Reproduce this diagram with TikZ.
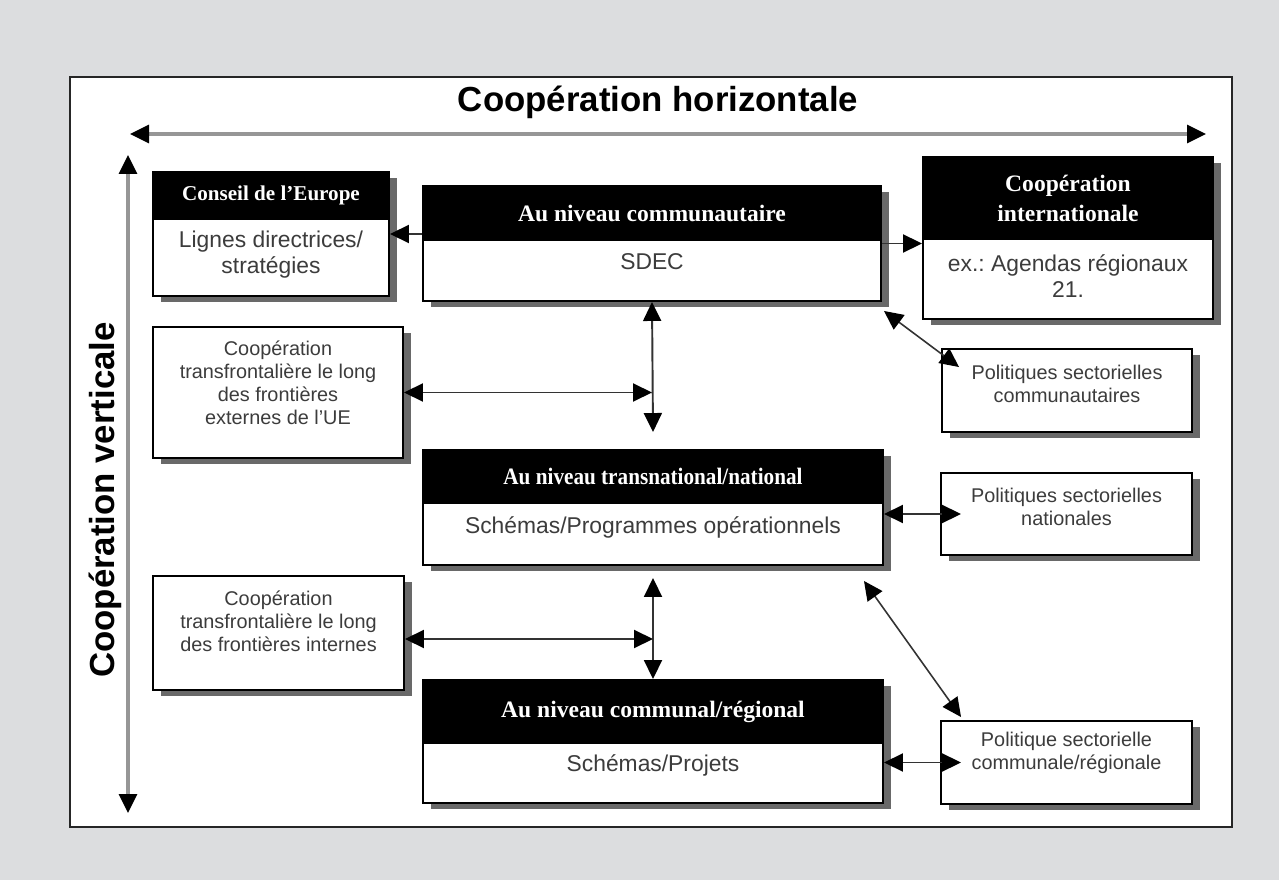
\documentclass[tikz,border=0pt]{standalone}
\usepackage{fontspec}
\setmainfont{Liberation Sans}
\newfontfamily\headfont{Liberation Serif}
\usepackage{tikz}
\usetikzlibrary{arrows.meta,positioning,shadows,calc}
\definecolor{pagegray}{RGB}{220,221,223}
\definecolor{textgray}{RGB}{60,60,60}
\definecolor{shadowgray}{RGB}{105,105,105}
\definecolor{axisgray}{RGB}{150,150,150}

\begin{document}
\begin{tikzpicture}[
    >={Triangle[length=0.38cm, width=0.36cm, color=black]},
    panel/.style={rectangle, draw=black, line width=1.1pt, fill=white,
                  drop shadow={shadow xshift=0.15cm, shadow yshift=-0.12cm, fill=shadowgray, opacity=1}},
    head/.style={rectangle, draw=black, line width=1.1pt, fill=black, text=white, anchor=north,
                 align=center, font=\headfont\bfseries\fontsize{13.4}{17}\selectfont},
    headsmall/.style={head, font=\headfont\bfseries\fontsize{12}{15}\selectfont},
    maintext/.style={text=textgray, align=center, font=\fontsize{13}{14.5}\selectfont},
    smalltext/.style={text=textgray, align=center, font=\fontsize{11.3}{13}\selectfont},
    axis/.style={<->, draw=axisgray, line width=1.8pt},
    link/.style={draw=black!80, line width=1.1pt},
    title/.style={font=\bfseries\fontsize{19.8}{22}\selectfont}
]

% page and frame
\fill[pagegray] (0,0) rectangle (25.58,17.6);
\draw[fill=white, draw=black!85, line width=1.2pt] (1.40,1.06) rectangle (24.64,16.06);

% axes
\node[title] (htitle) at (13.16,15.56) {Coopération horizontale};
\node[title, rotate=90] (vtitle) at (2.10,7.60) {Coopération verticale};
\coordinate (hleft) at (2.60,14.92);
\coordinate (hright) at (24.12,14.92);
\coordinate (vtop) at (2.56,14.50);
\coordinate (vbottom) at (2.56,1.34);
\draw[axis] (hleft) -- (hright);
\draw[axis] (vtop) -- (vbottom);

% upper row
\node[panel, minimum width=4.72cm, minimum height=2.48cm] (conseil) at (5.42,12.92) {};
\node[headsmall, minimum width=4.72cm, minimum height=0.94cm] (conseilhead) at (conseil.north) {Conseil de l’Europe};
\node[maintext] (conseiltext) at (5.42,12.51) {Lignes directrices/\\stratégies};

\node[panel, minimum width=9.16cm, minimum height=2.30cm] (comm) at (13.04,12.73) {};
\node[head, minimum width=9.16cm, minimum height=1.08cm] (commhead) at (comm.north) {Au niveau communautaire};
\node[maintext] (commtext) at (13.04,12.36) {SDEC};

\node[panel, minimum width=5.80cm, minimum height=3.24cm] (intl) at (21.36,12.84) {};
\node[head, minimum width=5.80cm, minimum height=1.64cm] (intlhead) at (intl.north) {Coopération\\internationale};
\node[maintext] (intltext) at (21.36,12.08) {ex.:\ Agendas régionaux\\21.};

% side boxes
\node[panel, minimum width=5.0cm, minimum height=2.62cm] (ext) at (5.56,9.75) {};
\node[smalltext] (exttext) at (5.56,9.94) {Coopération\\transfrontalière le long\\des frontières\\externes de l’UE};

\node[panel, minimum width=5.0cm, minimum height=1.66cm] (comsec) at (21.34,9.79) {};
\node[smalltext] (comsectext) at (21.34,9.93) {Politiques sectorielles\\communautaires};

% middle row
\node[panel, minimum width=9.2cm, minimum height=2.30cm] (trans) at (13.06,7.45) {};
\node[head, minimum width=9.2cm, minimum height=1.06cm] (transhead) at (trans.north) {\scalebox{0.9}[1]{Au niveau transnational/national}};
\node[maintext] (transtext) at (13.06,7.06) {Schémas/Programmes opérationnels};

\node[panel, minimum width=5.02cm, minimum height=1.64cm] (natsec) at (21.33,7.32) {};
\node[smalltext] (natsectext) at (21.33,7.47) {Politiques sectorielles\\nationales};

\node[panel, minimum width=5.02cm, minimum height=2.28cm] (intern) at (5.57,4.94) {};
\node[smalltext] (interntext) at (5.57,5.18) {Coopération\\transfrontalière le long\\des frontières internes};

% lower row
\node[panel, minimum width=9.2cm, minimum height=2.46cm] (communal) at (13.06,2.77) {};
\node[head, minimum width=9.2cm, minimum height=1.26cm] (communalhead) at (communal.north) {Au niveau communal/régional};
\node[maintext] (communaltext) at (13.06,2.30) {Schémas/Projets};

\node[panel, minimum width=5.02cm, minimum height=1.66cm] (comreg) at (21.33,2.35) {};
\node[smalltext] (comregtext) at (21.33,2.55) {Politique sectorielle\\communale/régionale};

% connectors
\draw[link, ->] (conseil.east -| comm.west) -- (conseil.east);
\draw[link, ->] (comm.east) -- (comm.east -| intl.west);
\draw[link, <->] (comm.south) -- ([yshift=0.34cm]trans.north);
\draw[link, <->] (ext.east) -- (ext.east -| comm.south);
\draw[link, <->, line width=0.9pt] ([xshift=0.04cm, yshift=-0.18cm]comm.south east) -- ([xshift=0.36cm, yshift=-0.38cm]comsec.north west);
\draw[link, <->] (natsec.west -| trans.east) -- ([xshift=0.42cm]natsec.west);
\draw[link, <->] ([yshift=-0.24cm]trans.south) -- (communal.north);
\draw[link, <->] ([yshift=-0.12cm]intern.east) -- ([yshift=-0.12cm]intern.east -| communal.north);
\draw[link, <->, line width=0.9pt] ([xshift=-0.40cm, yshift=-0.30cm]trans.south east) -- ([xshift=0.42cm, yshift=0.06cm]comreg.north west);
\draw[link, <->] (comreg.west -| communal.east) -- ([xshift=0.42cm]comreg.west);

\end{tikzpicture}
\end{document}
